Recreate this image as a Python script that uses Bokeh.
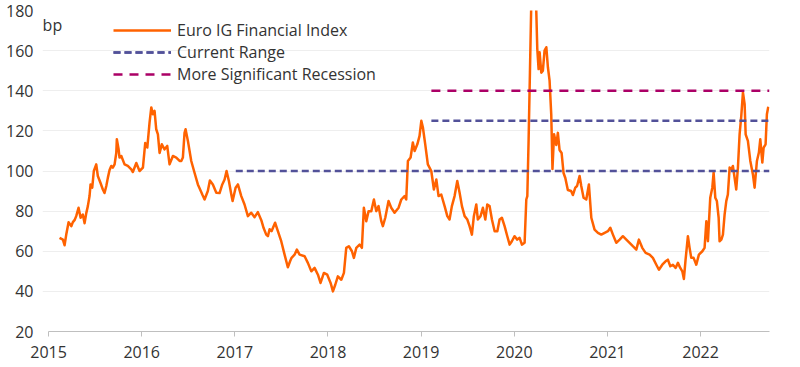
from bokeh.plotting import figure
from bokeh.models import FixedTicker, Legend, LegendItem, Label
from bokeh.embed import file_html
from bokeh.resources import INLINE

# ---- data (decimal year, bp) ----
years = [
    2015.118, 2015.154, 2015.172, 2015.190, 2015.215, 2015.244, 2015.261, 2015.279, 2015.297, 2015.322,
    2015.344, 2015.368, 2015.387, 2015.405, 2015.422, 2015.440, 2015.451, 2015.469, 2015.486, 2015.512,
    2015.529, 2015.558, 2015.583, 2015.601, 2015.620, 2015.637, 2015.655, 2015.673, 2015.690, 2015.709,
    2015.727, 2015.733, 2015.752, 2015.762, 2015.781, 2015.816, 2015.851, 2015.888, 2015.905, 2015.942,
    2015.977, 2016.013, 2016.038, 2016.060, 2016.084, 2016.103, 2016.120, 2016.138, 2016.156, 2016.174,
    2016.192, 2016.216, 2016.245, 2016.274, 2016.299, 2016.335, 2016.371, 2016.407, 2016.425, 2016.442,
    2016.460, 2016.471, 2016.496, 2016.532, 2016.568, 2016.603, 2016.627, 2016.653, 2016.675, 2016.710,
    2016.732, 2016.764, 2016.801, 2016.836, 2016.865, 2016.890, 2016.911, 2016.936, 2016.962, 2016.976,
    2017.008, 2017.033, 2017.069, 2017.104, 2017.140, 2017.176, 2017.212, 2017.247, 2017.284, 2017.308,
    2017.337, 2017.355, 2017.373, 2017.394, 2017.432, 2017.462, 2017.498, 2017.534, 2017.569, 2017.593,
    2017.609, 2017.641, 2017.666, 2017.695, 2017.749, 2017.784, 2017.821, 2017.856, 2017.892, 2017.920,
    2017.956, 2017.992, 2018.028, 2018.053, 2018.078, 2018.106, 2018.143, 2018.171, 2018.196, 2018.224,
    2018.257, 2018.278, 2018.304, 2018.339, 2018.364, 2018.385, 2018.411, 2018.436, 2018.465, 2018.493,
    2018.518, 2018.543, 2018.572, 2018.589, 2018.615, 2018.650, 2018.679, 2018.715, 2018.758, 2018.787,
    2018.822, 2018.840, 2018.858, 2018.887, 2018.911, 2018.930, 2018.959, 2018.983, 2019.002, 2019.019,
    2019.044, 2019.072, 2019.109, 2019.137, 2019.163, 2019.187, 2019.216, 2019.252, 2019.281, 2019.305,
    2019.330, 2019.359, 2019.388, 2019.413, 2019.438, 2019.467, 2019.496, 2019.520, 2019.545, 2019.566,
    2019.592, 2019.609, 2019.638, 2019.663, 2019.689, 2019.710, 2019.735, 2019.760, 2019.789, 2019.818,
    2019.842, 2019.867, 2019.896, 2019.925, 2019.950, 2019.974, 2020.003, 2020.032, 2020.057, 2020.082,
    2020.111, 2020.129, 2020.140, 2020.154, 2020.168, 2020.183, 2020.197, 2020.213, 2020.224, 2020.236,
    2020.247, 2020.261, 2020.272, 2020.290, 2020.307, 2020.325, 2020.344, 2020.361, 2020.379, 2020.397,
    2020.410, 2020.427, 2020.451, 2020.468, 2020.486, 2020.508, 2020.529, 2020.548, 2020.575, 2020.610,
    2020.629, 2020.655, 2020.674, 2020.701, 2020.719, 2020.744, 2020.773, 2020.801, 2020.827, 2020.862,
    2020.898, 2020.934, 2020.970, 2021.005, 2021.031, 2021.059, 2021.095, 2021.131, 2021.166, 2021.203,
    2021.238, 2021.273, 2021.310, 2021.338, 2021.374, 2021.410, 2021.453, 2021.488, 2021.525, 2021.553,
    2021.589, 2021.624, 2021.649, 2021.675, 2021.703, 2021.732, 2021.757, 2021.782, 2021.804, 2021.821,
    2021.839, 2021.864, 2021.882, 2021.900, 2021.925, 2021.954, 2021.982, 2022.019, 2022.043, 2022.062,
    2022.079, 2022.104, 2022.126, 2022.140, 2022.158, 2022.175, 2022.194, 2022.204, 2022.223, 2022.240,
    2022.258, 2022.276, 2022.293, 2022.312, 2022.330, 2022.347, 2022.365, 2022.383, 2022.401, 2022.419,
    2022.437, 2022.455, 2022.473, 2022.484, 2022.508, 2022.534, 2022.562, 2022.580, 2022.605, 2022.626,
    2022.641, 2022.663, 2022.677, 2022.698, 2022.712, 2022.727,
]

spread_bp = [
    66.7, 65.8, 63.0, 68.3, 74.5, 72.5, 74.5, 75.5, 77.5, 81.7,
    76.7, 78.3, 74.0, 79.0, 82.5, 87.5, 93.3, 91.7, 100.0, 103.3,
    97.5, 94.0, 90.8, 89.0, 92.5, 96.7, 100.5, 102.5, 101.7, 103.3,
    109.0, 115.8, 110.8, 106.7, 107.5, 103.3, 102.5, 100.8, 99.5, 104.0,
    100.0, 101.7, 114.0, 111.7, 124.0, 131.7, 128.3, 130.0, 120.8, 118.3,
    109.0, 113.3, 110.8, 112.5, 103.3, 107.5, 106.7, 105.0, 105.0, 106.7,
    119.0, 120.8, 115.0, 105.0, 99.0, 93.3, 90.8, 88.0, 85.8, 90.0,
    95.3, 93.3, 89.2, 89.0, 93.3, 95.8, 100.0, 95.0, 88.3, 85.0,
    91.7, 93.3, 87.5, 83.3, 77.5, 79.2, 77.0, 79.5, 75.5, 71.7,
    68.3, 67.5, 71.0, 70.0, 74.2, 70.0, 65.0, 58.3, 52.0, 55.0,
    56.7, 58.3, 60.8, 58.3, 57.5, 54.2, 50.0, 51.7, 48.3, 44.2,
    49.2, 48.3, 44.2, 40.0, 43.3, 47.5, 45.8, 49.2, 61.7, 62.5,
    60.0, 56.7, 61.7, 63.3, 61.7, 81.7, 75.0, 80.0, 80.0, 85.8,
    80.0, 82.5, 75.0, 72.5, 76.7, 85.0, 81.7, 79.2, 81.7, 85.8,
    87.5, 85.8, 105.0, 106.7, 114.2, 110.0, 113.3, 117.5, 125.0, 121.7,
    113.3, 103.3, 100.0, 90.8, 95.8, 87.5, 88.3, 82.5, 77.5, 75.8,
    82.5, 87.5, 95.0, 89.2, 82.5, 77.5, 75.8, 72.5, 68.3, 77.5,
    83.3, 75.8, 77.5, 81.7, 75.8, 83.3, 82.5, 75.8, 70.0, 70.0,
    75.8, 76.7, 72.5, 67.5, 63.3, 65.0, 67.5, 65.8, 66.7, 63.3,
    64.2, 85.8, 87.5, 115.8, 149.0, 185.0, 230.0, 200.0, 225.0, 180.0,
    160.8, 150.8, 159.2, 149.0, 150.0, 160.0, 161.7, 151.7, 145.0, 128.0,
    101.0, 118.3, 113.0, 119.0, 110.5, 109.0, 99.0, 96.5, 90.5, 90.0,
    88.0, 91.7, 92.5, 97.5, 92.5, 86.7, 85.8, 93.3, 76.7, 70.8,
    69.2, 68.3, 69.2, 70.0, 71.7, 68.3, 64.2, 65.8, 67.5, 65.8,
    64.2, 62.5, 60.8, 65.8, 61.7, 59.2, 58.3, 56.7, 53.3, 50.8,
    53.3, 55.0, 55.8, 52.5, 53.3, 51.7, 54.2, 51.7, 50.0, 46.2,
    55.8, 67.5, 61.7, 56.7, 56.7, 53.3, 58.3, 60.0, 61.7, 75.0,
    65.0, 86.7, 91.7, 99.2, 86.7, 85.0, 76.7, 65.0, 65.8, 68.3,
    78.3, 85.0, 88.3, 101.7, 100.8, 102.5, 96.7, 90.8, 101.7, 118.3,
    127.5, 139.2, 133.3, 118.3, 115.0, 105.0, 98.3, 91.7, 105.0, 109.2,
    115.8, 104.2, 111.7, 113.3, 128.3, 132.0,
]

ref_labels = ["Current Range", "Current Range", "More Significant Recession"]
ref_levels = [100, 125, 140]
ref_start = [2017.01, 2019.11, 2019.11]
ref_end = [2022.74, 2022.74, 2022.74]
ref_colors = ["#525199", "#525199", "#AB0066"]
ref_dash = ["7 4", "7 4", "9 7"]

x_ticks = [2015, 2016, 2017, 2018, 2019, 2020, 2021, 2022]
y_ticks = [20, 40, 60, 80, 100, 120, 140, 160, 180]
x_start, x_end = 2015, 2022.74
unit_label = "bp"

FONT = "Open Sans"
TXT = "#333333"

# frame begins a few px left of 2015 so the "bp" unit label is not clipped
p = figure(width=795, height=365, x_range=(x_start - 0.065, x_end), y_range=(20, 180),
           output_backend="svg", toolbar_location=None,
           min_border_left=42, min_border_right=26, min_border_top=10, min_border_bottom=34)
p.outline_line_color = None
p.background_fill_color = "white"
p.border_fill_color = "white"

# axes
p.xaxis.ticker = FixedTicker(ticks=x_ticks)
p.yaxis.ticker = FixedTicker(ticks=y_ticks)
p.xaxis.bounds = (x_start, x_end)
p.xaxis.axis_line_color = "#BFBFBF"
p.xaxis.major_tick_line_color = "#BFBFBF"
p.xaxis.major_tick_in = 0
p.xaxis.major_tick_out = 5
p.xaxis.minor_tick_line_color = None
p.xaxis.major_label_standoff = 9
p.yaxis.axis_line_color = None
p.yaxis.major_tick_line_color = None
p.yaxis.minor_tick_line_color = None
p.yaxis.major_tick_out = 0
p.yaxis.major_tick_in = 0
p.yaxis.major_label_standoff = 9
for ax in (p.xaxis, p.yaxis):
    ax.major_label_text_font = FONT
    ax.major_label_text_font_size = "16px"
    ax.major_label_text_color = TXT

p.xgrid.grid_line_color = None
p.ygrid.grid_line_color = "#EEEEEE"
p.ygrid.grid_line_width = 1

# series
r_main = p.line(years, spread_bp, line_color="#FF6200", line_width=2.5, line_join="round")

ref_renderers = {}
for lab, lvl, s, e, c, d in zip(ref_labels, ref_levels, ref_start, ref_end, ref_colors, ref_dash):
    r = p.line([s, e], [lvl, lvl], line_color=c, line_width=2.5, line_dash=d)
    ref_renderers.setdefault(lab, []).append(r)

items = [LegendItem(label="Euro IG Financial Index", renderers=[r_main])]
for lab in ["Current Range", "More Significant Recession"]:
    items.append(LegendItem(label=lab, renderers=ref_renderers[lab]))

legend = Legend(items=items, location=(71, 246), padding=0, spacing=0,
                glyph_width=58, glyph_height=20, label_height=20, label_standoff=6,
                label_text_font=FONT, label_text_font_size="16px", label_text_color=TXT,
                background_fill_alpha=0, border_line_alpha=0, margin=0)
p.add_layout(legend, "center")

p.add_layout(Label(x=x_start - 0.064, y=173, text=unit_label, text_font=FONT, text_font_size="16px",
                   text_color=TXT, text_baseline="middle", text_align="left"))

open("out.html", "w").write(file_html(p, INLINE))
